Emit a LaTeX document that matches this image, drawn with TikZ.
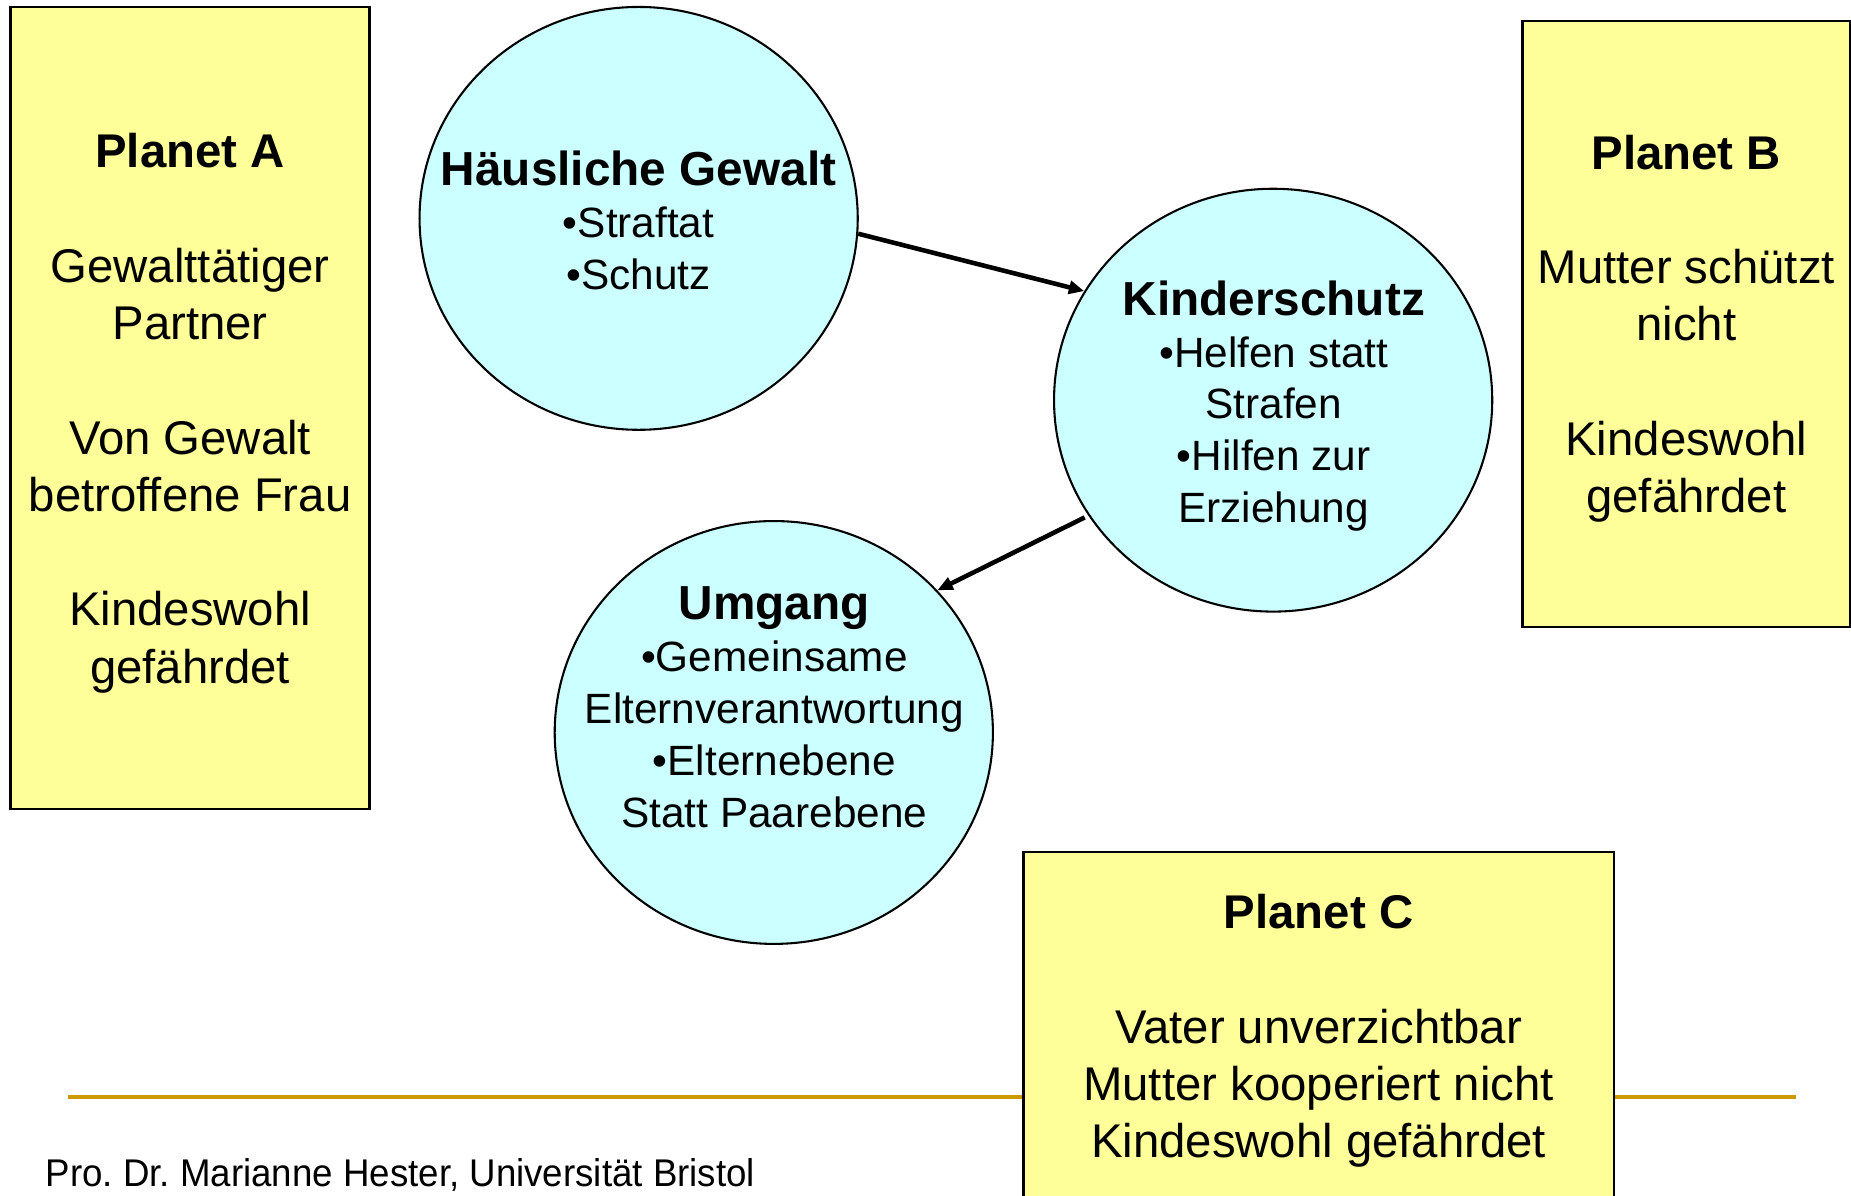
\documentclass[tikz,border=0pt]{standalone}
\usepackage{fontspec}
\setmainfont{Liberation Sans}
\newfontfamily\narrowfont[FakeStretch=0.95]{Liberation Sans}
\usepackage{tikz}
\usetikzlibrary{shapes.geometric,arrows.meta}
\frenchspacing

\definecolor{planetyellow}{RGB}{255,255,153}
\definecolor{bubblecyan}{RGB}{204,255,255}
\definecolor{rulegold}{RGB}{204,153,0}

\tikzset{
  planet/.style={draw=black,line width=0.6pt,fill=planetyellow,rectangle,inner sep=0pt},
  planettext/.style={align=center,inner sep=0pt,font=\fontsize{11.4}{13.8}\selectfont},
  bubble/.style={draw=black,line width=0.5pt,fill=bubblecyan,ellipse,inner sep=0pt,
    minimum width=3.71cm,minimum height=3.58cm},
  bubbletext/.style={align=center,inner sep=0pt,font=\fontsize{10.2}{12.5}\selectfont},
  link/.style={line width=1.1pt,-{Triangle[length=0.13cm,width=0.11cm]}}
}

\begin{document}
\begin{tikzpicture}[x=0.01cm,y=-0.01cm]
\useasboundingbox (0,0) rectangle (1568,1013);
\clip (0,0) rectangle (1568,1013);

\draw[rulegold,line width=1pt] (58,929) -- (1521,929);

\node[planet,minimum width=3.04cm,minimum height=6.79cm] (pa) at (161,345.5) {};
\node[planettext] (pa-text) at (161,350)
  {\textbf{Planet A}\\[13.8pt]Gewalttätiger\\Partner\\[13.8pt]Von Gewalt\\betroffene Frau\\[13.8pt]Kindeswohl\\gefährdet};
\node[planet,minimum width=2.77cm,minimum height=5.13cm] (pb) at (1428.5,274.5) {};
\node[planettext] (pb-text) at (1428.5,278.5)
  {\textbf{Planet B}\\[13.8pt]Mutter schützt\\nicht\\[13.8pt]Kindeswohl\\gefährdet};
\node[planet,minimum width=5.00cm,minimum height=2.97cm] (pc) at (1117,870.5) {};
\node[planettext] (pc-text) at (1117,873.5)
  {\textbf{Planet C}\\[13.8pt]Vater unverzichtbar\\Mutter kooperiert nicht\\Kindeswohl gefährdet};

\node[bubble] (h) at (541,185) {};
\node[bubble] (k) at (1078.5,339) {};
\node[bubble] (u) at (655.5,620.5) {};

\node[bubbletext] (h-text) at (541,187)
  {{\fontsize{11.5}{13}\selectfont\bfseries Häusliche Gewalt}\\•Straftat\\•Schutz};
\node[bubbletext] (k-text) at (1079,344)
  {{\fontsize{11.5}{13}\selectfont\bfseries Kinderschutz}\\•Helfen statt\\Strafen\\•Hilfen zur\\Erziehung};
\node[bubbletext] (u-text) at (656,599)
  {{\fontsize{11.5}{13}\selectfont\bfseries Umgang}\\•Gemeinsame\\Elternverantwortung\\•Elternebene\\Statt Paarebene};

\draw[link] (h.-4) -- (k.150);
\draw[link,shorten <=1pt] (k.212.5) -- (u.41);

\node[anchor=base west,inner sep=0pt,font=\narrowfont\fontsize{9.3}{11}\selectfont] (credit) at (38,1005)
  {Pro. Dr. Marianne Hester, Universität Bristol};

\end{tikzpicture}
\end{document}
